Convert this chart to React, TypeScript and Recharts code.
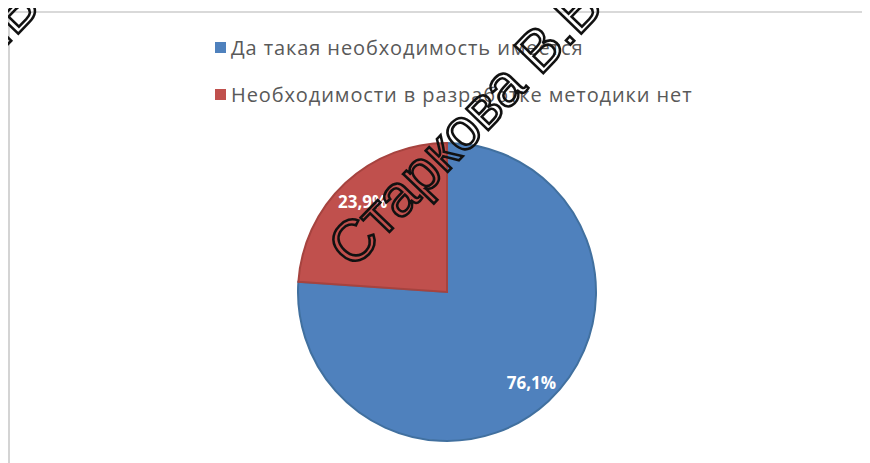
import { Cell, Legend, Pie, PieChart } from "recharts";

const categories = [
  "Да такая необходимость имеется",
  "Необходимости в разработке методики нет",
];
const shares = [76.1, 23.9];
const colors = ["#4F81BD", "#C0504D"];
const strokes = ["#41709f", "#a6433f"];

const WATERMARK = "Старкова В.В.";

const data = categories.map((name, i) => ({ name, value: shares[i] }));

const RAD = Math.PI / 180;

function renderLabel(props: any) {
  const { cx, cy, midAngle, outerRadius, value } = props;
  const r = outerRadius * 0.83;
  const x = cx + r * Math.cos(-midAngle * RAD);
  const y = cy + r * Math.sin(-midAngle * RAD);
  return (
    <text
      x={x}
      y={y}
      fill="#ffffff"
      fontSize={17}
      fontWeight="bold"
      fontFamily="'Open Sans', sans-serif"
      textAnchor="middle"
      dominantBaseline="central"
    >
      {`${value.toFixed(1).replace(".", ",")}%`}
    </text>
  );
}

function LegendBox() {
  return (
    <div style={{ fontFamily: "'Open Sans', sans-serif", fontSize: 20, color: "#595959" }}>
      {data.map((d, i) => (
        <div
          key={d.name}
          style={{ display: "flex", alignItems: "center", height: 26, marginBottom: i === 0 ? 21 : 0 }}
        >
          <span
            style={{ width: 11, height: 11, background: colors[i], display: "inline-block", marginRight: 5 }}
          />
          <span style={{ letterSpacing: 0.9 }}>{d.name}</span>
        </div>
      ))}
    </div>
  );
}

export default function App() {
  return (
    <div
      style={{
        position: "relative",
        width: 862,
        height: 452,
        marginTop: 3,
        borderLeft: "2px solid #d4d4d4",
        borderTop: "2px solid #d9d9d9",
        boxSizing: "border-box",
      }}
    >
      <PieChart width={860} height={450} margin={{ top: 0, right: 0, bottom: 0, left: 0 }}>
        <Pie
          data={data}
          dataKey="value"
          nameKey="name"
          cx={437}
          cy={279}
          outerRadius={149}
          startAngle={90}
          endAngle={-270}
          label={renderLabel}
          labelLine={false}
          isAnimationActive={false}
        >
          {data.map((d, i) => (
            <Cell key={d.name} fill={colors[i]} stroke={strokes[i]} strokeWidth={2} />
          ))}
        </Pie>
        <Legend
          content={<LegendBox />}
          wrapperStyle={{ position: "absolute", top: 21, left: 205, width: 560 }}
        />
      </PieChart>
      <svg
        width={870}
        height={463}
        style={{ position: "absolute", left: -10, top: -13, pointerEvents: "none" }}
      >
        <g fontFamily="'Liberation Sans', Arial, sans-serif" fontSize={58} fill="none" stroke="#111" strokeWidth={2.6}>
          <text x={353} y={270} transform="rotate(-46 353 270)">
            {WATERMARK}
          </text>
          <text x={-210} y={270} transform="rotate(-46 -210 270)">
            {WATERMARK}
          </text>
        </g>
      </svg>
    </div>
  );
}
